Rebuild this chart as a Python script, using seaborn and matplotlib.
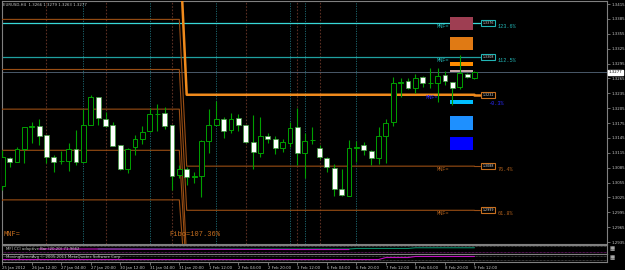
import numpy as np
import pandas as pd
import matplotlib
matplotlib.use("Agg")
import matplotlib.pyplot as plt
import seaborn as sns

# ---------------- data ----------------
bar_open = [1.3047, 1.3105, 1.3097, 1.3123, 1.3167, 1.3168, 1.3150, 1.3107, 1.3098, 1.3098,
            1.3123, 1.3097, 1.3172, 1.3227, 1.3184, 1.3170, 1.3131, 1.3082, 1.3126, 1.3143,
            1.3158, 1.3193, 1.3196, 1.3172, 1.3070, 1.3082, 1.3067, 1.3068, 1.3139, 1.3172,
            1.3183, 1.3160, 1.3185, 1.3171, 1.3137, 1.3114, 1.3149, 1.3143, 1.3124, 1.3134,
            1.3166, 1.3115, 1.3140, 1.3125, 1.3105, 1.3085, 1.3041, 1.3028, 1.3125, 1.3130,
            1.3119, 1.3104, 1.3149, 1.3178, 1.3256, 1.3259, 1.3245, 1.3267, 1.3255, 1.3256,
            1.3272, 1.3257, 1.3248, 1.3274, 1.3266]
bar_high = [1.3121, 1.3107, 1.3126, 1.3167, 1.3177, 1.3183, 1.3151, 1.3111, 1.3119, 1.3134,
            1.3161, 1.3203, 1.3232, 1.3227, 1.3197, 1.3178, 1.3131, 1.3125, 1.3151, 1.3168,
            1.3205, 1.3213, 1.3207, 1.3172, 1.3090, 1.3086, 1.3077, 1.3141, 1.3203, 1.3219,
            1.3187, 1.3196, 1.3193, 1.3172, 1.3191, 1.3187, 1.3154, 1.3149, 1.3142, 1.3178,
            1.3205, 1.3154, 1.3166, 1.3131, 1.3107, 1.3092, 1.3082, 1.3141, 1.3139, 1.3137,
            1.3121, 1.3166, 1.3183, 1.3268, 1.3266, 1.3265, 1.3274, 1.3270, 1.3285, 1.3285,
            1.3279, 1.3258, 1.3312, 1.3276, 1.3279]
bar_low = [1.3040, 1.3087, 1.3096, 1.3094, 1.3134, 1.3131, 1.3094, 1.3076, 1.3092, 1.3079,
           1.3090, 1.3096, 1.3172, 1.3172, 1.3167, 1.3129, 1.3080, 1.3074, 1.3111, 1.3132,
           1.3157, 1.3158, 1.3162, 1.3040, 1.3064, 1.3050, 1.3055, 1.3025, 1.3114, 1.3170,
           1.3144, 1.3154, 1.3158, 1.3135, 1.3082, 1.3107, 1.3134, 1.3112, 1.3117, 1.3126,
           1.3090, 1.3064, 1.3133, 1.3103, 1.3077, 1.3028, 1.3028, 1.3028, 1.3097, 1.3111,
           1.3090, 1.3092, 1.3094, 1.3169, 1.3228, 1.3243, 1.3235, 1.3248, 1.3245, 1.3218,
           1.3252, 1.3211, 1.3243, 1.3265, 1.3263]
bar_close = [1.3107, 1.3096, 1.3122, 1.3166, 1.3168, 1.3149, 1.3107, 1.3097, 1.3099, 1.3123,
             1.3096, 1.3172, 1.3227, 1.3185, 1.3169, 1.3129, 1.3083, 1.3123, 1.3142, 1.3157,
             1.3193, 1.3194, 1.3169, 1.3068, 1.3082, 1.3066, 1.3067, 1.3139, 1.3171, 1.3183,
             1.3159, 1.3183, 1.3171, 1.3137, 1.3117, 1.3149, 1.3142, 1.3124, 1.3137, 1.3164,
             1.3114, 1.3139, 1.3141, 1.3106, 1.3086, 1.3041, 1.3030, 1.3125, 1.3126, 1.3120,
             1.3104, 1.3149, 1.3176, 1.3256, 1.3257, 1.3245, 1.3265, 1.3255, 1.3256, 1.3270,
             1.3260, 1.3246, 1.3275, 1.3267, 1.3277]

time_tick_bars = [0, 4, 8, 12, 16, 20, 24, 28, 32, 36, 40, 44, 48, 52, 56, 60, 64]
time_tick_labels = ["25 Jan 2012", "26 Jan 12:00", "27 Jan 04:00", "27 Jan 20:00",
                    "30 Jan 12:00", "31 Jan 04:00", "31 Jan 20:00", "1 Feb 12:00",
                    "2 Feb 04:00", "2 Feb 20:00", "3 Feb 12:00", "6 Feb 04:00",
                    "6 Feb 20:00", "7 Feb 12:00", "8 Feb 04:00", "8 Feb 20:00", "9 Feb 12:00"]
price_ticks = [1.3415, 1.3385, 1.3355, 1.3325, 1.3295, 1.3265, 1.3235, 1.3205, 1.3175,
               1.3145, 1.3115, 1.3085, 1.3055, 1.3025, 1.2995, 1.2965, 1.2935]
current_price = 1.3277

# vertical separators (bar index)
sep_teal = [11, 20, 29, 39, 41, 48]
sep_brown = [6, 14, 23, 33, 40, 43]

# full-width level lines
cyan_level = 1.3376
teal_level = 1.3308
# stepped MNF levels: value up to bar 24 / from bar 25 on
mnf_left = [1.3545, 1.3384, 1.3283, 1.3203, 1.3120, 1.3020]
mnf_right = [1.3232, 1.3088, 1.2999, 1.2900, 1.2860, 1.2820]
mnf_colors = ["#f08a1c", "#9a4e14", "#9a4e14", "#9a4e14", "#9a4e14", "#9a4e14"]
mnf_widths = [1.8, 0.8, 0.8, 0.8, 0.8, 0.8]

# coloured zones on the right (bottom, top, colour)
zone_bottom = [1.3363, 1.3322, 1.3289, 1.3277, 1.3213, 1.3161, 1.3121]
zone_top = [1.3389, 1.3349, 1.3298, 1.3282, 1.3221, 1.3189, 1.3147]
zone_colors = ["#9e3e52", "#e07a14", "#ff8c00", "#c8a8a8", "#00bfff", "#1e90ff", "#0000ff"]

# labels of the right-hand levels
lvl_price = [1.3376, 1.3308, 1.3232, 1.3088, 1.2999]
lvl_box = ["1.3376", "1.3308", "1.3232", "1.3088", "1.2999"]
lvl_pct = ["123.6%", "112.5%", "-0.3%", "76.4%", "61.8%"]
lvl_colors = ["#22b5b5", "#22b5b5", "#2a2aff", "#b0601c", "#b0601c"]
lvl_box_edge = ["#22b5b5", "#22b5b5", "#c87020", "#c87020", "#c87020"]
lvl_mnf_x = [58.9, 58.9, 57.4, 58.9, 58.9]
lvl_pct_x = [67.1, 67.1, 65.9, 67.1, 67.1]
lvl_pct_dy = [0.0006, 0.0006, 0.0012, 0.0006, 0.0006]

# indicator sub-windows (levels read per bar, NaN = absent)
ind1_teal = [np.nan]*13 + [0.50]*35 + [0.56]*8 + [0.64]*9
ind1_mag = [np.nan]*5 + [0.50]*9 + [np.nan]*26 + [0.44]*8 + [np.nan]*17
ind2_mag = [0.31]*52 + [0.56]*4 + [0.69]*9

# ---------------- drawing ----------------
sns.set_theme(style="dark", rc={"axes.facecolor": "black", "figure.facecolor": "black"})
plt.rcParams["font.family"] = ["DejaVu Sans"]

W, H = 625.0, 270.0
def rect(x0, y0, x1, y1):
    return [x0 / W, 1 - y1 / H, (x1 - x0) / W, (y1 - y0) / H]

fig = plt.figure(figsize=(6.25, 2.70), dpi=100, facecolor="black")
ax = fig.add_axes(rect(2, 1, 607, 244))
ax1 = fig.add_axes(rect(2, 244.5, 607, 253.5), sharex=ax)
ax2 = fig.add_axes(rect(2, 254, 607, 262), sharex=ax)

n = len(bar_open)
idx = np.arange(n)
o = np.array(bar_open); h = np.array(bar_high); l = np.array(bar_low); c = np.array(bar_close)
up = c >= o

grid_c = "#808080"
txt_c = "#c8c8c8"
FS = 2.8

for a in (ax, ax1, ax2):
    a.set_facecolor("black")
    for s in a.spines.values():
        s.set_color(grid_c)
        s.set_linewidth(0.8)
    a.grid(False)

# separators
for b in sep_teal:
    ax.axvline(b, color="#1f6f78", lw=0.6, ls=(0, (1.5, 1.5)), zorder=1)
for b in sep_brown:
    ax.axvline(b, color="#5a2e22", lw=0.8, ls=(0, (1.5, 1.5)), zorder=1)

# full-width levels
ax.plot([-0.1, 64.7], [cyan_level, cyan_level], color="#38d8d8", lw=0.9, zorder=2)
ax.plot([-0.1, 64.7], [teal_level, teal_level], color="#1fa0a0", lw=0.9, zorder=2)
ax.axhline(current_price, color="#56687a", lw=0.6, zorder=2)

# stepped MNF lines
for lv_l, lv_r, col, lw in zip(mnf_left, mnf_right, mnf_colors, mnf_widths):
    vals = np.array([lv_l] * 25 + [lv_r] * 40)
    df = pd.DataFrame({"bar": np.arange(0, 65), "v": vals})
    sns.lineplot(data=df, x="bar", y="v", color=col, lw=lw, ax=ax, zorder=3, legend=False)
    ax.plot([-0.1, 0], [lv_l, lv_l], color=col, lw=lw, zorder=3)
    ax.plot([64, 64.7], [lv_r, lv_r], color=col, lw=lw, zorder=3)

# zones
for zb, zt, zc in zip(zone_bottom, zone_top, zone_colors):
    ax.fill_between([60.75, 63.85], zb, zt, color=zc, lw=0, zorder=4)

# candles
wick_c = "#00a000"
ax.vlines(idx, l, h, color=wick_c, lw=0.8, zorder=5)
body_b = np.minimum(o, c)
body_h = np.maximum(np.abs(c - o), 0.00006)
ax.bar(idx[up], body_h[up], bottom=body_b[up], width=0.66, color="black",
       edgecolor=wick_c, lw=0.7, zorder=6)
ax.bar(idx[~up], body_h[~up], bottom=body_b[~up], width=0.66, color="white",
       edgecolor="#3a9a3a", lw=0.5, zorder=6)

# level labels
for p, bt, pt, col, ec, mx, px, dy in zip(lvl_price, lvl_box, lvl_pct, lvl_colors,
                                          lvl_box_edge, lvl_mnf_x, lvl_pct_x, lvl_pct_dy):
    ax.text(65.05, p, bt, fontsize=2.3, color="#dddddd", va="center", ha="left",
            bbox=dict(boxstyle="square,pad=0.3", fc="black", ec=ec, lw=0.8), zorder=7)
    ax.text(px, p - dy, pt, fontsize=3.8, color=col, va="top" if dy > 0.001 else "center",
            ha="left", family="Liberation Mono", zorder=8)
    ax.text(mx, p - 0.0006, "MNF=", fontsize=3.8, color=col, va="center", ha="left",
            family="Liberation Mono", zorder=7)
ax.text(0.2, 1.2950, "MNF=", fontsize=5, color="#c87020", family="Liberation Mono",
        va="center", ha="left", zorder=7)
ax.text(22.6, 1.2950, "Fibo=107.36%", fontsize=5, color="#c87020",
        family="Liberation Mono", va="center", ha="left", zorder=7)

# right price axis
ax.yaxis.tick_right()
ax.set_yticks(price_ticks)
ax.set_yticklabels([f"{t:.4f}" for t in price_ticks])
ax.tick_params(axis="y", colors=grid_c, labelcolor=txt_c, labelsize=FS, length=2,
               width=0.6, pad=1.2, right=True, left=False)
ax.tick_params(axis="x", bottom=False, labelbottom=False)
ax.set_xlabel(""); ax.set_ylabel("")
ax.text(1.003, current_price, f"{current_price:.4f}", transform=ax.get_yaxis_transform(),
        fontsize=FS, color="black", va="center", ha="left",
        bbox=dict(boxstyle="square,pad=0.2", fc="white", ec="white"), zorder=8, clip_on=False)

fig.text(3 / W, 1 - 5.5 / H, "EURUSD,H4  1.3266 1.3279 1.3263 1.3277", fontsize=FS,
         color=txt_c, va="center", ha="left")

# indicator 1
ax1.set_ylim(0, 1)
ax1.axhline(0.83, color="#707070", lw=0.5, ls=(0, (1, 1)))
ax1.axhline(0.13, color="#a020a0", lw=0.5, ls=(0, (1, 1)))
d1 = pd.DataFrame({"bar": idx, "t": ind1_teal, "m": ind1_mag})
sns.lineplot(data=d1, x="bar", y="t", color="#0a8a6a", lw=0.8, ax=ax1, legend=False)
sns.lineplot(data=d1, x="bar", y="m", color="#c010c0", lw=0.8, ax=ax1, legend=False)
ax1.text(0.5, 0.5, "MFI CCI adaptive Bar (20,20) 71.9662", fontsize=FS, color=txt_c,
         va="center", ha="left")
ax1.set_yticks([]); ax1.set_xlabel(""); ax1.set_ylabel("")
ax1.tick_params(axis="x", bottom=False, labelbottom=False)

# indicator 2
ax2.set_ylim(0, 1)
for lv in (0.81, 0.19):
    ax2.axhline(lv, color="#707070", lw=0.5, ls=(0, (1, 1)))
d2 = pd.DataFrame({"bar": idx, "m": ind2_mag})
sns.lineplot(data=d2, x="bar", y="m", color="#c010c0", lw=0.8, ax=ax2, legend=False)
ax2.text(0.5, 0.6, "MovingDirectAvg \u00a9 2005-2011 MetaQuotes Software Corp.", fontsize=FS,
         color=txt_c, va="center", ha="left")
ax2.set_yticks([]); ax2.set_xlabel(""); ax2.set_ylabel("")
ax2.set_xticks(time_tick_bars)
ax2.set_xticklabels(time_tick_labels)
ax2.tick_params(axis="x", colors=grid_c, labelcolor=txt_c, labelsize=FS, length=2,
                width=0.6, pad=1.2, bottom=True)
for lab in ax2.get_xticklabels():
    lab.set_ha("left")

# small window icons on the right of the sub-windows
for yy in (248.5, 258.0):
    fig.text(609 / W, 1 - yy / H, "\u25a6", fontsize=4, color="#d0d0d0", va="center", ha="left")

ax.set_xlim(-0.03, 81.96)
ax.set_ylim(1.29310, 1.34211)

fig.savefig("out.png", dpi=100, facecolor="black")
